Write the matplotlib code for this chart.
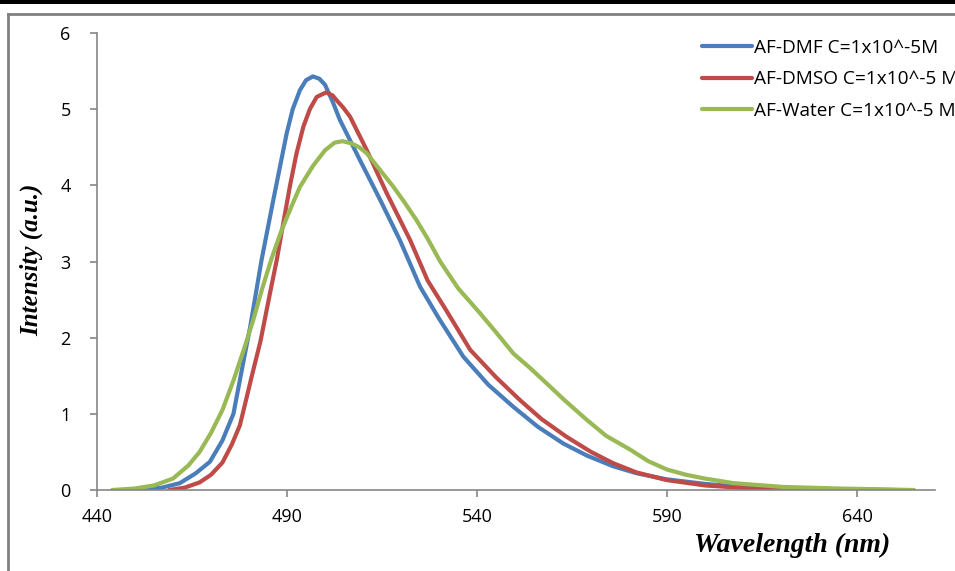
import matplotlib
matplotlib.use("Agg")
import matplotlib.pyplot as plt
from matplotlib.patches import Rectangle
from matplotlib.lines import Line2D

# valores
wl_dmf = [447, 452, 457, 461.8, 466, 469.7, 473, 475.9, 478, 480.3, 483.3, 486.4,
          489.9, 491.5, 493.4, 495, 496.8, 498.5, 500, 502, 503.9, 509.2, 514.5,
          519.7, 525, 530, 536.4, 543, 549.6, 556, 562.7, 569, 575.9, 582,
          589.9, 600, 607.5, 620, 635, 650]
int_dmf = [0.0, 0.01, 0.03, 0.09, 0.22, 0.37, 0.65, 1.0, 1.55, 2.14, 3.02, 3.81,
           4.68, 5.0, 5.25, 5.38, 5.43, 5.40, 5.32, 5.1, 4.86, 4.33, 3.81,
           3.28, 2.67, 2.25, 1.75, 1.38, 1.09, 0.83, 0.61, 0.45, 0.31, 0.22,
           0.14, 0.08, 0.05, 0.02, 0.01, 0.0]

wl_dmso = [459, 463, 467, 470, 473, 475.5, 477.6, 479.4, 481, 483, 485.5, 487.3,
           489, 490.8, 492.5, 494.3, 496, 497.8, 500.3, 502, 503, 504.8, 506.6,
           511, 516.2, 522.4, 527, 532, 538.2, 545, 551.3, 557, 563.5, 570,
           575.9, 582, 589.9, 600, 607.5, 614, 620]
int_dmso = [0.0, 0.03, 0.1, 0.2, 0.36, 0.6, 0.85, 1.22, 1.55, 1.95, 2.58, 3.02,
            3.5, 4.0, 4.42, 4.77, 5.0, 5.16, 5.22, 5.18, 5.12, 5.02, 4.90,
            4.46, 3.90, 3.28, 2.75, 2.35, 1.84, 1.48, 1.18, 0.93, 0.70, 0.50,
            0.35, 0.23, 0.13, 0.06, 0.035, 0.015, 0.0]

wl_water = [444, 450, 455, 460, 464, 467, 470, 473, 476, 479, 481.1, 483.5, 486,
            488.5, 490.8, 493.4, 496.9, 500, 502.5, 504.6, 507, 509, 511, 514.5,
            518, 521, 524.1, 527, 530.3, 535, 540.8, 545, 549.6, 554, 558.3,
            563, 568.9, 574, 580.3, 585, 589.9, 595, 600, 607.5, 620.5, 635, 655]
int_water = [0.0, 0.02, 0.06, 0.15, 0.32, 0.5, 0.75, 1.05, 1.45, 1.9, 2.23, 2.65,
             3.05, 3.4, 3.68, 3.98, 4.26, 4.46, 4.56, 4.58, 4.55, 4.5, 4.42,
             4.2, 3.98, 3.77, 3.54, 3.3, 3.0, 2.65, 2.32, 2.07, 1.79, 1.60, 1.40,
             1.18, 0.92, 0.71, 0.53, 0.38, 0.27, 0.2, 0.15, 0.09, 0.04, 0.02, 0.0]

etiquetas = ["AF-DMF C=1x10^-5M", "AF-DMSO C=1x10^-5 M", "AF-Water C=1x10^-5 M"]
colores = ["#4A7EBB", "#BE4B48", "#98B954"]

W, H = 955, 571
fig = plt.figure(figsize=(W / 100, H / 100), dpi=100)

# barra negra superior y marco gris
fig.patches.append(Rectangle((0, 1 - 4 / H), 1, 4 / H, transform=fig.transFigure,
                             facecolor="black", edgecolor="none"))
fig.lines.append(Line2D([8 / W, 8 / W], [0, 1 - 14 / H], transform=fig.transFigure,
                        color="#808080", lw=2))
fig.lines.append(Line2D([8 / W, 1], [1 - 14 / H, 1 - 14 / H], transform=fig.transFigure,
                        color="#808080", lw=2))

ax = fig.add_axes([97 / W, 1 - 490 / H, (935 - 97) / W, (490 - 33) / H])

datos = [(wl_dmf, int_dmf), (wl_dmso, int_dmso), (wl_water, int_water)]
for (x, y), lab, c in zip(datos, etiquetas, colores):
    ax.plot(x, y, color=c, lw=3, label=lab, solid_capstyle="round",
            solid_joinstyle="round")

ax.set_xlim(440, 660.5)
ax.set_ylim(0, 6)
ax.set_xticks([440, 490, 540, 590, 640])
ax.set_yticks(range(0, 7))

for s in ["top", "right"]:
    ax.spines[s].set_visible(False)
for s in ["left", "bottom"]:
    ax.spines[s].set_color("#868686")
    ax.spines[s].set_linewidth(1.2)
ax.tick_params(axis="both", colors="#868686", length=5, width=1.2, labelsize=13,
               labelcolor="black")
ax.tick_params(axis="x", pad=8)
ax.tick_params(axis="y", pad=14)
for t in ax.get_xticklabels() + ax.get_yticklabels():
    t.set_family("Open Sans")

fig.text(890 / W, 1 - 545 / H, "Wavelength (nm)", ha="right", va="center",
         family="Liberation Serif", weight="bold", style="italic", fontsize=20)
fig.text(32 / W, 1 - 260 / H, "Intensity (a.u.)", ha="center", va="center",
         rotation=90, family="Liberation Serif", weight="bold", style="italic",
         fontsize=18)

leg = ax.legend(loc="upper left", bbox_to_anchor=(685 / W, 1 - 22 / H),
                bbox_transform=fig.transFigure, frameon=False, handlelength=2.6,
                handletextpad=0.15, labelspacing=0.7,
                prop={"family": "Open Sans", "size": 13.7})

fig.savefig("out.png", dpi=100)
